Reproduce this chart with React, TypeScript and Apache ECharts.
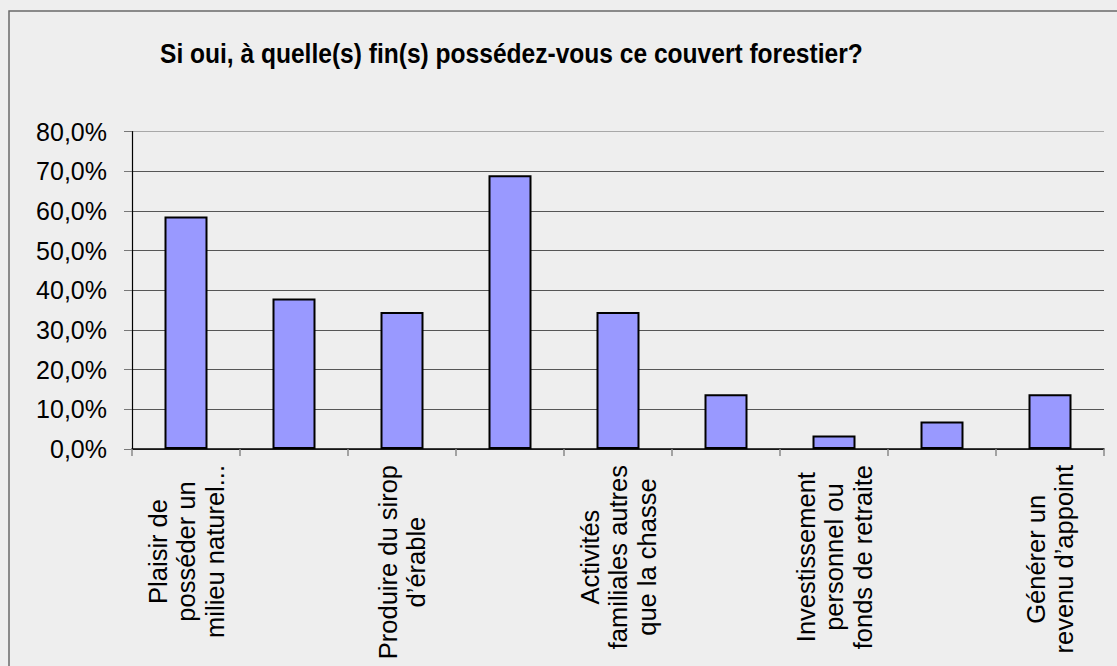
import React, { useEffect, useRef } from "react";
import * as echarts from "echarts";

const TITLE = "Si oui, à quelle(s) fin(s) possédez-vous ce couvert forestier?";
const categories = [
  "Plaisir de\nposséder un\nmilieu naturel...",
  "",
  "Produire du sirop\nd’érable",
  "",
  "Activités\nfamiliales autres\nque la chasse",
  "",
  "Investissement\npersonnel ou\nfonds de retraite",
  "",
  "Générer un\nrevenu d’appoint",
];
const values = [58.6, 37.9, 34.5, 69.0, 34.5, 13.8, 3.4, 6.9, 13.8];
const yMin = 0;
const yMax = 80;
const yStep = 10;

export default function App() {
  const ref = useRef<HTMLDivElement>(null);
  useEffect(() => {
    document.body.style.margin = "0";
    const chart = echarts.init(ref.current!, null, { renderer: "svg" });
    const font = "'Liberation Sans', Arial, sans-serif";
    const gridColors = ["#555", "#555", "#555", "#555", "#555", "#555", "#555", "#555", "#a8a8a8"];
    chart.setOption({
      animation: false,
      backgroundColor: "#eeeeee",
      graphic: [
        {
          type: "rect",
          shape: { x: 9, y: 11, width: 1200, height: 800 },
          style: { fill: "none", stroke: "#6a6a6a", lineWidth: 1.5 },
          silent: true,
        },
        {
          type: "text",
          x: 160,
          y: 54,
          scaleX: 0.91,
          style: {
            text: TITLE,
            fontFamily: font,
            fontSize: 27,
            fontWeight: "bold",
            fill: "#000",
            textAlign: "left",
            textVerticalAlign: "middle",
          },
          silent: true,
        },
      ],
      grid: { left: 132, right: 13, top: 131.5, bottom: 217, containLabel: false },
      xAxis: {
        type: "category",
        data: categories,
        boundaryGap: true,
        axisLine: { show: true, lineStyle: { color: "#000", width: 1.5 } },
        axisTick: { show: true, interval: 0, length: 7, lineStyle: { color: "#888", width: 1.5 } },
        axisLabel: {
          interval: 1,
          rotate: 90,
          margin: 16,
          fontFamily: font,
          fontSize: 25.5,
          lineHeight: 28.5,
          color: "#000",
          formatter: (v: string) =>
            v
              .split("\n")
              .map((l) => "{c|" + l + "}")
              .join("\n"),
          rich: { c: { align: "center", fontFamily: font, fontSize: 25.5, lineHeight: 28.5, color: "#000" } },
        },
      },
      yAxis: {
        type: "value",
        min: yMin,
        max: yMax,
        interval: yStep,
        axisLine: { show: true, lineStyle: { color: "#000", width: 1.2 } },
        axisTick: { show: true, length: 8, lineStyle: { color: "#777", width: 1 } },
        splitLine: { show: true, lineStyle: { color: gridColors, width: 1 } },
        axisLabel: {
          margin: 25,
          fontFamily: font,
          fontSize: 25,
          color: "#000",
          formatter: (v: number) => v.toFixed(1).replace(".", ",") + "%",
        },
      },
      series: [
        {
          type: "bar",
          data: values,
          barWidth: 43,
          itemStyle: { color: "#9999ff", borderColor: "#000", borderWidth: 2 },
        },
      ],
    });
    return () => chart.dispose();
  }, []);
  return <div ref={ref} style={{ width: 1117, height: 666 }} />;
}
